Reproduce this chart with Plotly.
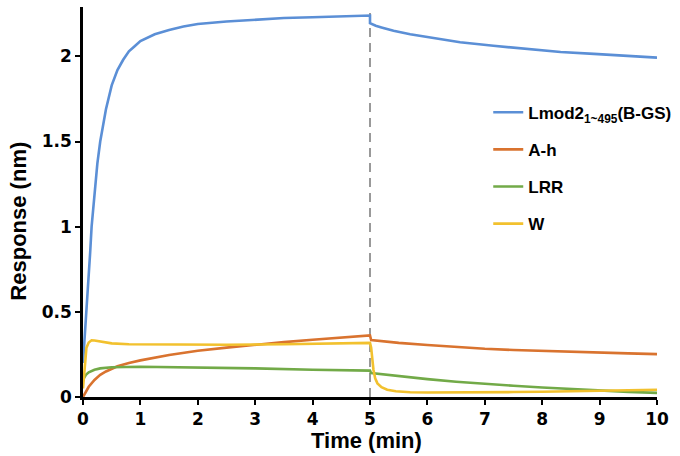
import plotly.graph_objects as go

# ---- data ----
lmod_t = [0, 0.02, 0.05, 0.075, 0.1, 0.125, 0.15, 0.2, 0.25, 0.3, 0.35, 0.4, 0.5, 0.6, 0.7, 0.8, 0.9,
          1.0, 1.25, 1.5, 1.75, 2.0, 2.5, 3.0, 3.5, 4.0, 4.5, 5.0,
          5.0, 5.1, 5.2, 5.41, 5.7, 6.0, 6.57, 7.15, 7.73, 8.32, 8.9, 9.48, 10.0]
lmod_y = [0.2, 0.3, 0.45, 0.55, 0.7, 0.85, 1.0, 1.2, 1.37, 1.5, 1.6, 1.69, 1.83, 1.92, 1.98, 2.03, 2.06,
          2.09, 2.13, 2.155, 2.175, 2.19, 2.205, 2.215, 2.225, 2.23, 2.235, 2.24,
          2.195, 2.18, 2.17, 2.15, 2.13, 2.113, 2.083, 2.062, 2.042, 2.026, 2.015, 2.003, 1.993]

ah_t = [0, 0.05, 0.1, 0.2, 0.3, 0.4, 0.5, 0.6, 0.8, 1.0, 1.5, 2.0, 2.5, 3.0, 3.5, 4.0, 4.5, 5.0,
        5.02, 5.5, 6.0, 6.5, 7.0, 7.5, 8.0, 8.5, 9.0, 9.5, 10.0]
ah_y = [0.0, 0.035, 0.06, 0.1, 0.13, 0.15, 0.167, 0.18, 0.2, 0.215, 0.247, 0.272, 0.29, 0.307, 0.322, 0.336, 0.35, 0.362,
        0.335, 0.318, 0.305, 0.293, 0.283, 0.276, 0.27, 0.265, 0.26, 0.256, 0.252]

lrr_t = [0, 0.05, 0.1, 0.2, 0.3, 0.5, 1.0, 2.0, 3.0, 4.0, 5.0,
         5.02, 5.5, 6.0, 6.5, 7.0, 7.5, 8.0, 8.5, 9.0, 9.5, 10.0]
lrr_y = [0.1, 0.13, 0.145, 0.16, 0.168, 0.175, 0.178, 0.175, 0.168, 0.16, 0.155,
         0.14, 0.122, 0.105, 0.09, 0.077, 0.066, 0.056, 0.046, 0.037, 0.03, 0.024]

w_t = [0, 0.03, 0.06, 0.1, 0.15, 0.2, 0.3, 0.5, 0.8, 1.5, 2.5, 3.5, 4.5, 5.0,
       5.02, 5.04, 5.06, 5.09, 5.13, 5.2, 5.3, 5.45, 5.7, 6.0, 6.5, 7.0, 7.5, 8.0, 8.5, 9.0, 9.5, 10.0]
w_y = [0.05, 0.2, 0.29, 0.32, 0.333, 0.332, 0.325, 0.315, 0.31, 0.308, 0.307, 0.31, 0.315, 0.318,
       0.29, 0.22, 0.16, 0.11, 0.08, 0.058, 0.043, 0.034, 0.028, 0.026, 0.026, 0.027, 0.029, 0.031, 0.034, 0.037, 0.04, 0.043]

x_ticks = [0, 1, 2, 3, 4, 5, 6, 7, 8, 9, 10]
y_ticks = [0, 0.5, 1, 1.5, 2]
y_tick_text = ["0", "0.5", "1", "1.5", "2"]
switch_time = 5

series = [
    ("Lmod2<sub>1~495</sub>(B-GS)", lmod_t, lmod_y, "#5B8FD6"),
    ("A-h", ah_t, ah_y, "#D9732F"),
    ("LRR", lrr_t, lrr_y, "#72AA48"),
    ("W", w_t, w_y, "#F2C12E"),
]

FONT = "Liberation Sans, Arial, sans-serif"
TICKFONT = "DejaVu Sans, sans-serif"

fig = go.Figure()
for i, (name, t, y, c) in enumerate(series):
    fig.add_trace(go.Scatter(x=t, y=y, mode="lines", name=name, legendgroup=str(i),
                             line=dict(color=c, width=2.6)))

fig.add_shape(type="line", x0=switch_time, x1=switch_time, y0=0, y1=2.29, xref="x", yref="y",
              line=dict(color="#999999", width=2, dash="9px,6px"), layer="below")

axis_common = dict(showline=True, linecolor="black", linewidth=2.5, ticks="outside", ticklen=5,
                   tickwidth=2, tickcolor="black", showgrid=False, zeroline=False,
                   tickfont=dict(family=TICKFONT, size=17, color="black", weight="bold"))

fig.update_xaxes(range=[0, 10], tickvals=x_ticks, automargin=False, **axis_common)
fig.update_yaxes(range=[0, 2.29], tickvals=y_ticks, ticktext=y_tick_text, automargin=False, **axis_common)

fig.add_annotation(text="Time (min)", xref="paper", yref="paper", x=0.4935, y=-0.111,
                   showarrow=False, xanchor="center", yanchor="middle",
                   font=dict(family=FONT, size=22, color="black", weight="bold"))
fig.add_annotation(text="Response (nm)", xref="paper", yref="paper", x=-0.113, y=0.45,
                   showarrow=False, xanchor="center", yanchor="middle", textangle=-90,
                   font=dict(family=FONT, size=22, color="black", weight="bold"))

fig.update_layout(
    width=680, height=456,
    margin=dict(l=83, r=23, t=7, b=59, autoexpand=False),
    plot_bgcolor="white", paper_bgcolor="white",
    showlegend=True,
    hovermode=False,
    legend=dict(x=0.706, y=0.775, xanchor="left", yanchor="top", traceorder="grouped",
                tracegroupgap=12, itemwidth=30, bgcolor="rgba(0,0,0,0)",
                font=dict(family=FONT, size=17, color="black", weight="bold")),
)

fig.write_html("out.html", config={"displayModeBar": False},
               post_script="document.body.style.margin='0';document.body.style.overflow='hidden';")
